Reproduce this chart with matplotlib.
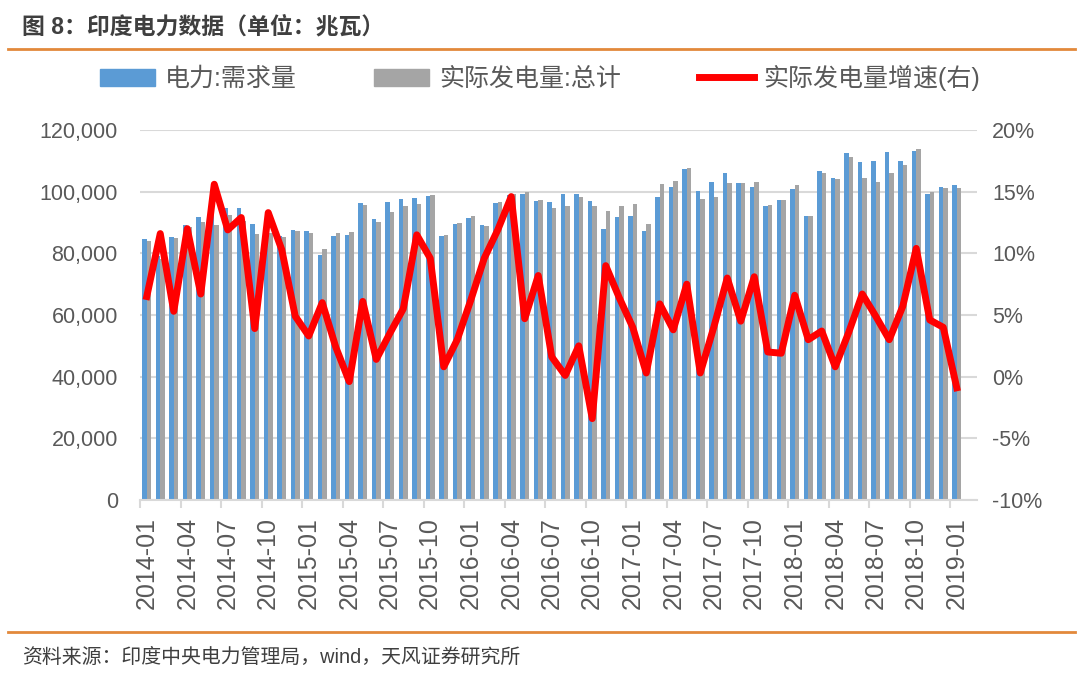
import matplotlib
matplotlib.use("Agg")
import matplotlib.pyplot as plt
from matplotlib.lines import Line2D
from matplotlib.patches import Patch
from matplotlib.ticker import FuncFormatter
import numpy as np
import pandas as pd

plt.rcParams['font.family'] = ['Liberation Sans', 'Noto Sans CJK SC']

months = list(pd.date_range('2014-01', '2019-01', freq='MS').strftime('%Y-%m'))

demand = [84800, 79000, 85400, 89200, 91700, 95500, 94800, 94800, 89400, 88000, 85700, 87500,
          87250, 79600, 85600, 86000, 96400, 91000, 96650, 97600, 97800, 98600, 85600, 89500,
          91600, 89200, 96200, 98800, 99400, 97100, 96800, 99200, 99200, 97100, 88000, 91800,
          92100, 87100, 98150, 101600, 107500, 100300, 103000, 105950, 102700, 101600, 95400, 97200,
          100750, 92100, 106700, 104300, 112650, 109700, 110050, 112950, 109950, 113200, 99250, 101600,
          102050]

generation = [84000, 78300, 84900, 88500, 90300, 89200, 92500, 90500, 86150, 86500, 85200, 87300,
              86600, 81400, 86500, 86800, 95700, 90300, 93300, 95300, 96000, 98800, 86050, 89800,
              92150, 88950, 96750, 99300, 100000, 97400, 94750, 95350, 98150, 95350, 93750, 95350,
              95950, 89400, 102400, 103450, 107550, 97700, 98200, 102900, 102700, 103000, 95600, 97200,
              102100, 92100, 106150, 104000, 111350, 104300, 103000, 106150, 108650, 113700, 100000, 101050,
              101050]

growth = [6.5, 11.6, 5.3, 12.0, 6.7, 15.6, 11.9, 12.9, 3.9, 13.3, 10.3, 4.9,
          3.3, 6.0, 2.4, -0.4, 6.1, 1.4, 3.5, 5.5, 11.5, 9.6, 0.8, 3.0,
          6.2, 9.6, 11.9, 14.6, 4.7, 8.2, 1.6, 0.1, 2.5, -3.4, 9.0, 6.4,
          4.0, 0.3, 5.9, 3.8, 7.5, 0.3, 4.0, 8.0, 4.5, 8.1, 2.0, 1.9,
          6.6, 3.0, 3.7, 0.8, 3.6, 6.7, 4.9, 3.0, 5.7, 10.4, 4.6, 4.0, -0.9]

labels = ['电力:需求量', '实际发电量:总计', '实际发电量增速(右)']

blue = '#5B9BD5'
gray = '#A5A5A5'
red = '#FF0000'
txt = '#595959'
orange = '#E2893B'

fig = plt.figure(figsize=(10.8, 6.81), dpi=100)
ax = fig.add_axes([140 / 1080, 1 - 500 / 681, 837 / 1080, 370 / 681])
ax2 = ax.twinx()

x = np.arange(len(months))
w = 0.34
ax.bar(x - w / 2, demand, width=w, color=blue, zorder=2)
ax.bar(x + w / 2, generation, width=w, color=gray, zorder=2)
ax2.plot(x, growth, color=red, lw=5, solid_joinstyle='round', zorder=3)

ax.set_xlim(-0.5, 61.5)
ax.set_ylim(0, 120000)
ax2.set_ylim(-10, 20)
ax.set_yticks(np.arange(0, 120001, 20000))
ax2.set_yticks(np.arange(-10, 21, 5))
ax.yaxis.set_major_formatter(FuncFormatter(lambda v, p: f'{int(v):,}'))
ax2.yaxis.set_major_formatter(FuncFormatter(lambda v, p: f'{int(v)}%'))

ax.set_axisbelow(True)
ax.grid(axis='y', color='#D9D9D9', lw=1.5)
for a in (ax, ax2):
    for s in a.spines.values():
        s.set_visible(False)
ax.spines['bottom'].set_visible(True)
ax.spines['bottom'].set_color('#D9D9D9')
ax.spines['bottom'].set_linewidth(1.5)

ax.set_xticks(x[::3])
ax.set_xticklabels(months[::3], rotation=90, fontsize=18, color=txt)
ax.set_xticks(np.arange(-0.5, 61.5, 3), minor=True)
ax.tick_params(axis='x', which='major', length=0, pad=12)
ax.tick_params(axis='x', which='minor', length=6, color='#D9D9D9', width=1.5)
ax.tick_params(axis='y', length=0, labelsize=15.5, labelcolor=txt, pad=16)
ax2.tick_params(axis='y', length=0, labelsize=15.5, labelcolor=txt, pad=11)

handles = [Patch(color=blue), Patch(color=gray), Line2D([], [], color=red, lw=5)]
fig.legend(handles, labels, loc='center', bbox_to_anchor=(0.5, 1 - 78 / 681), ncol=3,
           frameon=False, fontsize=18, handlelength=2.2, handletextpad=0.4,
           columnspacing=3.1, labelcolor=txt)

fig.text(22 / 1080, 1 - 27 / 681, '图 8：印度电力数据（单位：兆瓦）', fontsize=16.5, fontweight='bold',
         color='#3F3F3F', va='center', ha='left')
fig.text(22 / 1080, 1 - 657 / 681, '资料来源：印度中央电力管理局，wind，天风证券研究所', fontsize=14.3,
         color='#3F3F3F', va='center', ha='left')
fig.add_artist(Line2D([8 / 1080, 1075 / 1080], [1 - 49 / 681] * 2, color=orange, lw=2))
fig.add_artist(Line2D([8 / 1080, 1075 / 1080], [1 - 632 / 681] * 2, color=orange, lw=2))

fig.savefig('out.png', dpi=100)
